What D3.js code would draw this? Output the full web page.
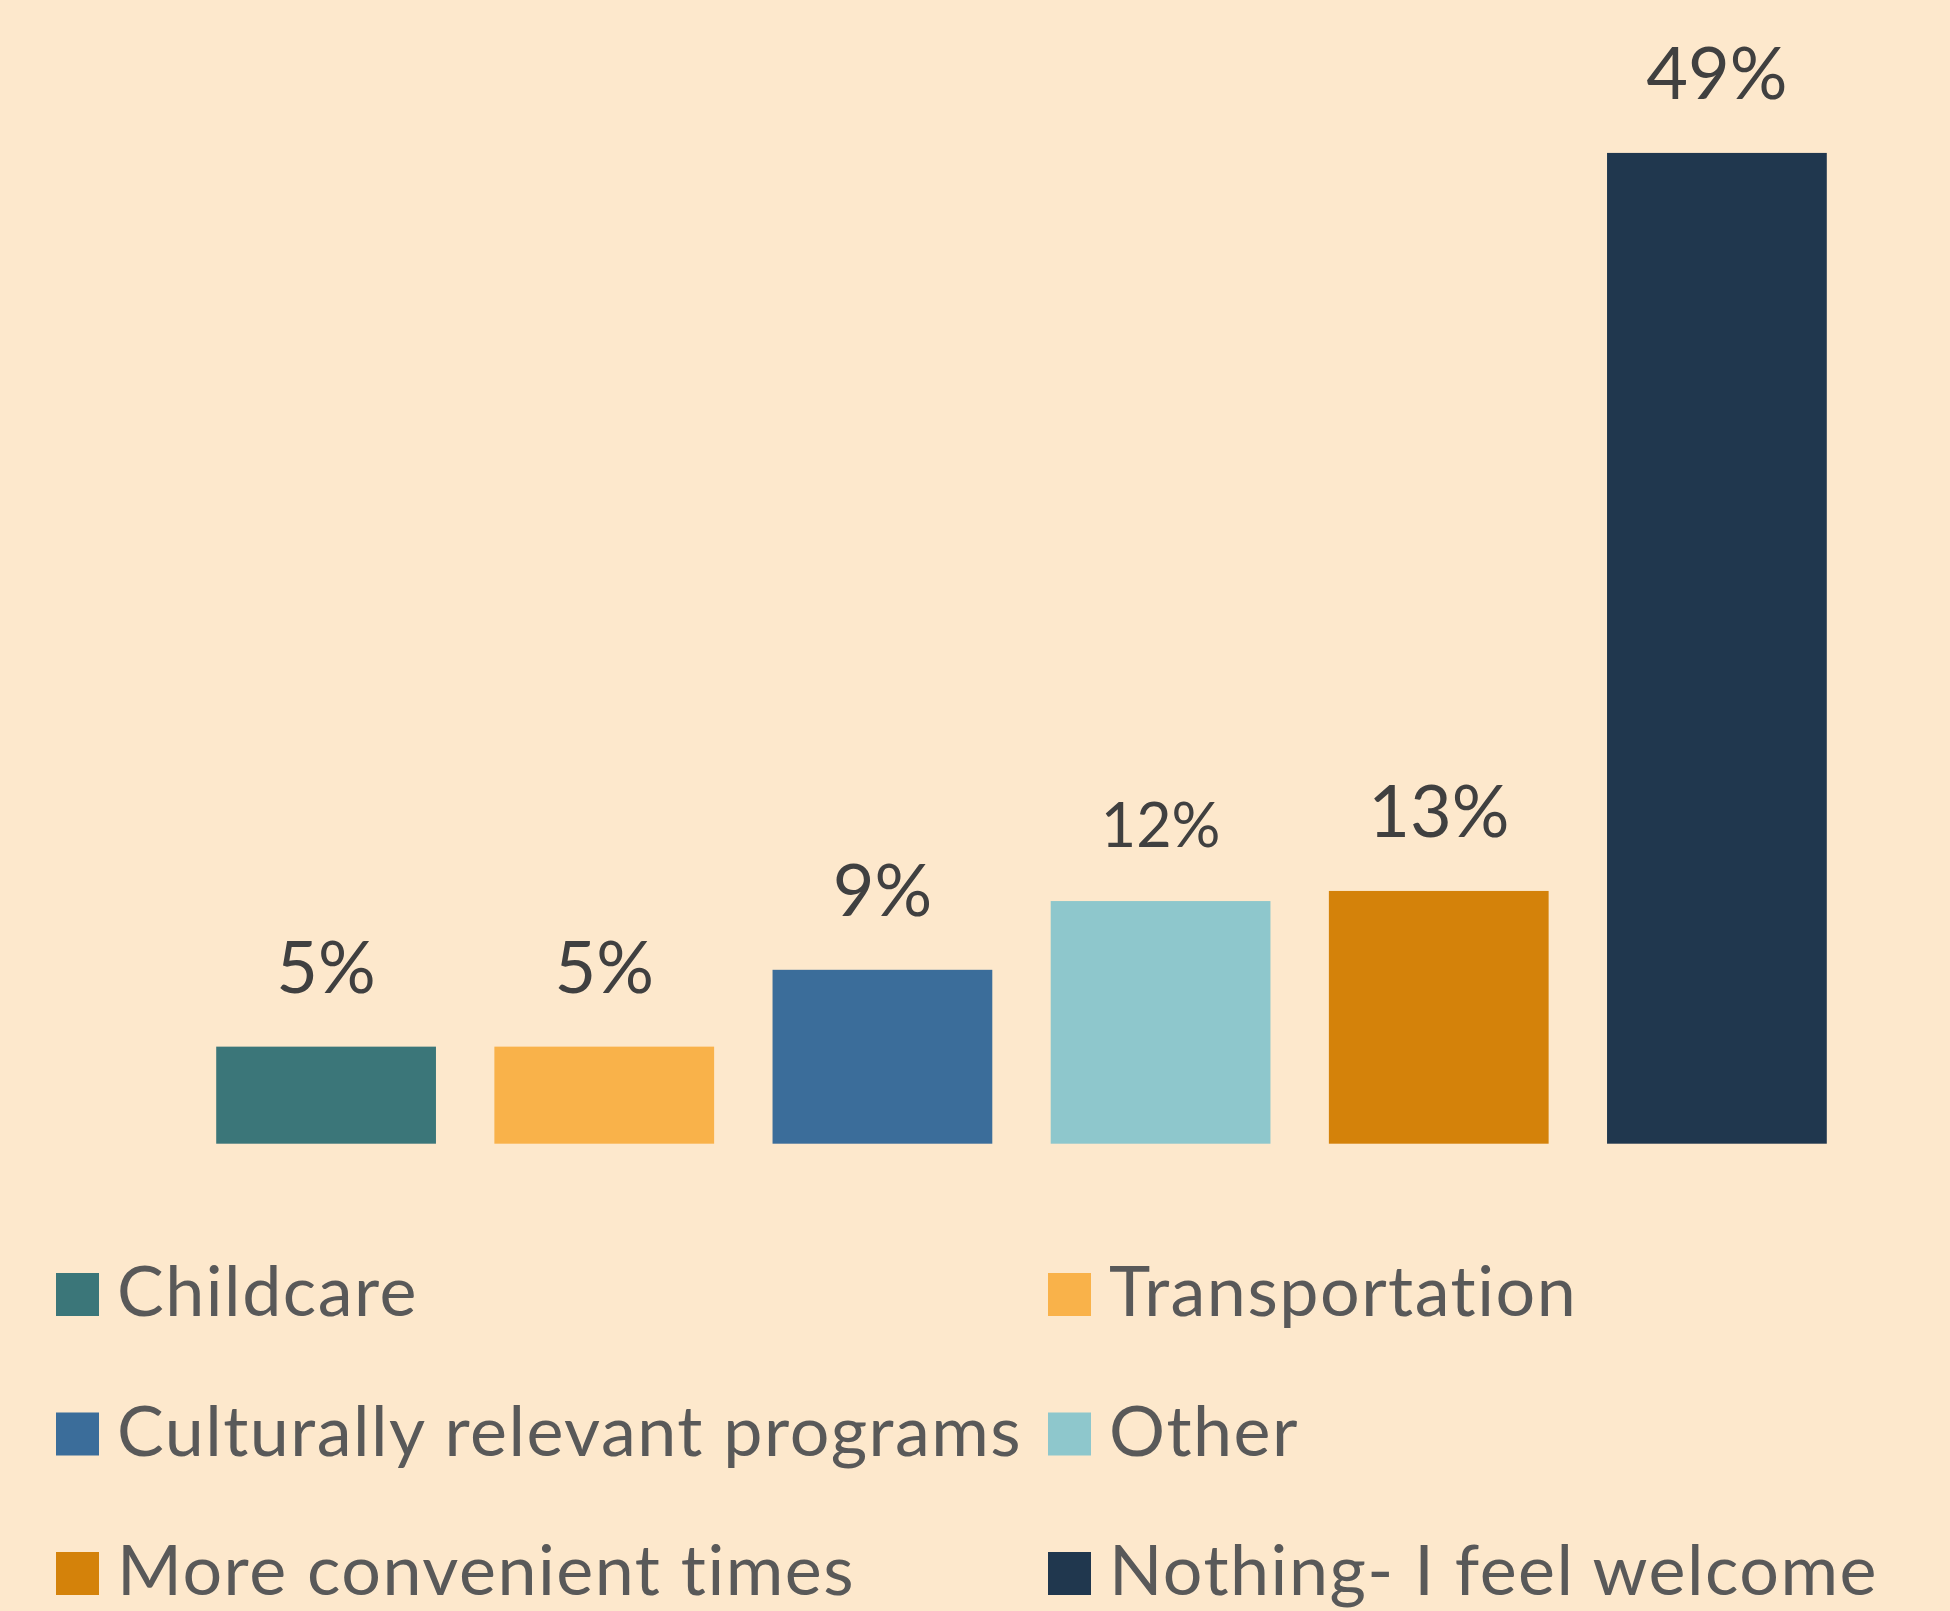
<!DOCTYPE html>
<html>
<head>
<meta charset="utf-8">
<script src="https://cdn.jsdelivr.net/npm/d3@7"></script>
<style>
  html, body { margin: 0; padding: 0; background: #FDE8CC; }
  svg { display: block; }
  text { font-variant-ligatures: none; font-feature-settings: "liga" 0, "clig" 0; }
</style>
</head>
<body>
<div id="chart"></div>
<script>
// data
const categories = ["Childcare", "Transportation", "Culturally relevant programs", "Other", "More convenient times", "Nothing- I feel welcome"];
const values = [0.048, 0.048, 0.086, 0.12, 0.125, 0.49];
const labels = ["5%", "5%", "9%", "12%", "13%", "49%"];
const colors = ["#3B7679", "#F9B24A", "#3B6D9A", "#8EC7CC", "#D4820A", "#20374E"];

function drawChart() {
    const width = 1950, height = 1611;
    const font = "Lato, 'Open Sans', sans-serif";

    const svg = d3.select("#chart").append("svg")
        .attr("width", width)
        .attr("height", height)
        .style("background", "#FDE8CC");

    /* ---------- scales ---------- */
    const x = d3.scaleBand()
        .domain(categories)
        .range([187, 1856])
        .paddingInner(0.21)
        .paddingOuter(0.105);

    const y = d3.scaleLinear()
        .domain([0, 0.5])
        .range([1143.7, 132.7]);

    const data = categories.map((c, i) => ({ cat: c, v: values[i], label: labels[i], color: colors[i] }));

    /* ---------- bars ---------- */
    svg.append("g").selectAll("rect")
        .data(data)
        .join("rect")
        .attr("x", d => x(d.cat))
        .attr("y", d => y(d.v))
        .attr("width", x.bandwidth())
        .attr("height", d => y(0) - y(d.v))
        .attr("fill", d => d.color);

    /* ---------- value labels ---------- */
    svg.append("g").selectAll("text")
        .data(data)
        .join("text")
        .attr("x", d => x(d.cat) + x.bandwidth() / 2)
        .attr("y", d => y(d.v) - 54)
        .attr("text-anchor", "middle")
        .style("font-family", font)
        .style("font-size", (d, i) => i === 3 ? "61px" : "72px")
        .style("fill", "#404040")
        .text(d => d.label);

    /* ---------- legend ---------- */
    const legend = svg.append("g");
    const item = legend.selectAll("g")
        .data(data)
        .join("g")
        .attr("transform", (d, i) => `translate(${56 + (i % 2) * 992},${1273 + Math.floor(i / 2) * 139.5})`);

    item.append("rect")
        .attr("width", 43)
        .attr("height", 43)
        .attr("fill", d => d.color);

    item.append("text")
        .attr("x", 61)
        .attr("y", 43)
        .style("font-family", font)
        .style("font-size", "70px")
        .style("letter-spacing", "1.5px")
        .style("fill", "#595959")
        .text(d => d.cat);
}

drawChart();
</script>
</body>
</html>
